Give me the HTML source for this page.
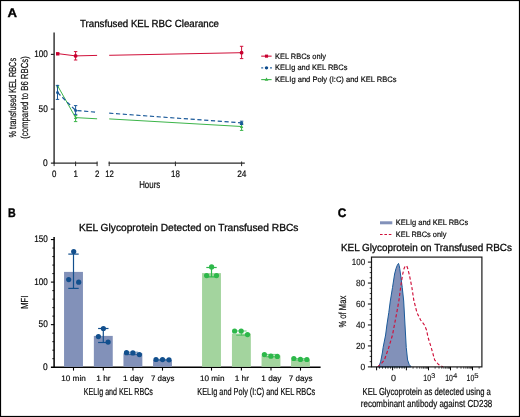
<!DOCTYPE html>
<html lang="en"><head><meta charset="utf-8"><title>KEL RBC Clearance</title>
<style>
html,body{margin:0;padding:0;background:#fff;}
body{width:520px;height:417px;overflow:hidden;}
svg{display:block;font-family:"Liberation Sans",sans-serif;text-rendering:geometricPrecision;}
</style></head><body>
<svg width="520" height="417" viewBox="0 0 520 417">
<rect x="0" y="0" width="520" height="417" fill="#fff"/>
<g id="panelA">
<text x="7.5" y="17" font-size="12.4" text-anchor="start" font-weight="bold" fill="#000" stroke="#000" stroke-width="0.35" textLength="9.5" lengthAdjust="spacingAndGlyphs">A</text>
<text x="80" y="27" font-size="10.3" text-anchor="start" font-weight="normal" fill="#0a0a0a" stroke="#0a0a0a" stroke-width="0.3" textLength="139" lengthAdjust="spacingAndGlyphs">Transfused KEL RBC Clearance</text>
<line x1="54.1" y1="32.5" x2="54.1" y2="163.79999999999998" stroke="#2a2a2a" stroke-width="1.4"/>
<line x1="50.9" y1="163.1" x2="97.4" y2="163.1" stroke="#2a2a2a" stroke-width="1.4"/>
<line x1="108.6" y1="163.1" x2="244.8" y2="163.1" stroke="#2a2a2a" stroke-width="1.4"/>
<line x1="50.9" y1="54.4" x2="54.1" y2="54.4" stroke="#2a2a2a" stroke-width="1.2"/>
<line x1="50.9" y1="109.1" x2="54.1" y2="109.1" stroke="#2a2a2a" stroke-width="1.2"/>
<line x1="54.1" y1="161.5" x2="54.1" y2="166.1" stroke="#2a2a2a" stroke-width="1.0"/>
<line x1="75.6" y1="161.5" x2="75.6" y2="166.1" stroke="#2a2a2a" stroke-width="1.0"/>
<line x1="97.1" y1="161.5" x2="97.1" y2="166.1" stroke="#2a2a2a" stroke-width="1.0"/>
<line x1="109.2" y1="161.5" x2="109.2" y2="166.1" stroke="#2a2a2a" stroke-width="1.0"/>
<line x1="175.4" y1="161.5" x2="175.4" y2="166.1" stroke="#2a2a2a" stroke-width="1.0"/>
<line x1="241.6" y1="161.5" x2="241.6" y2="166.1" stroke="#2a2a2a" stroke-width="1.0"/>
<text x="34.2" y="57.1" font-size="9.6" text-anchor="start" font-weight="normal" fill="#0a0a0a" stroke="#0a0a0a" stroke-width="0.2" textLength="13.6" lengthAdjust="spacingAndGlyphs">100</text>
<text x="38.6" y="111.8" font-size="9.6" text-anchor="start" font-weight="normal" fill="#0a0a0a" stroke="#0a0a0a" stroke-width="0.2" textLength="9.2" lengthAdjust="spacingAndGlyphs">50</text>
<text x="43.1" y="165.8" font-size="9.6" text-anchor="start" font-weight="normal" fill="#0a0a0a" stroke="#0a0a0a" stroke-width="0.2" textLength="4.7" lengthAdjust="spacingAndGlyphs">0</text>
<text x="51.9" y="176.8" font-size="9.4" text-anchor="start" font-weight="normal" fill="#0a0a0a" stroke="#0a0a0a" stroke-width="0.2" textLength="4.4" lengthAdjust="spacingAndGlyphs">0</text>
<text x="73.4" y="176.8" font-size="9.4" text-anchor="start" font-weight="normal" fill="#0a0a0a" stroke="#0a0a0a" stroke-width="0.2" textLength="4.4" lengthAdjust="spacingAndGlyphs">1</text>
<text x="94.9" y="176.8" font-size="9.4" text-anchor="start" font-weight="normal" fill="#0a0a0a" stroke="#0a0a0a" stroke-width="0.2" textLength="4.4" lengthAdjust="spacingAndGlyphs">2</text>
<text x="105.3" y="176.8" font-size="9.4" text-anchor="start" font-weight="normal" fill="#0a0a0a" stroke="#0a0a0a" stroke-width="0.2" textLength="8.6" lengthAdjust="spacingAndGlyphs">12</text>
<text x="171.1" y="176.8" font-size="9.4" text-anchor="start" font-weight="normal" fill="#0a0a0a" stroke="#0a0a0a" stroke-width="0.2" textLength="8.8" lengthAdjust="spacingAndGlyphs">18</text>
<text x="237.2" y="176.8" font-size="9.4" text-anchor="start" font-weight="normal" fill="#0a0a0a" stroke="#0a0a0a" stroke-width="0.2" textLength="9.2" lengthAdjust="spacingAndGlyphs">24</text>
<text x="139.2" y="188.2" font-size="10.2" text-anchor="start" font-weight="normal" fill="#0a0a0a" stroke="#0a0a0a" stroke-width="0.2" textLength="21" lengthAdjust="spacingAndGlyphs">Hours</text>
<text transform="translate(16.1,137.45) rotate(-90)" x="0" y="0" font-size="10.2" fill="#0a0a0a" stroke="#0a0a0a" stroke-width="0.2" textLength="79.5" lengthAdjust="spacingAndGlyphs">% transfused KEL RBCs</text>
<text transform="translate(27.9,138.75) rotate(-90)" x="0" y="0" font-size="10.2" fill="#0a0a0a" stroke="#0a0a0a" stroke-width="0.2" textLength="82.5" lengthAdjust="spacingAndGlyphs">(compared to B6 RBCs)</text>
<polyline points="57.5,85.6 75.6,117.6 97.1,118.8" fill="none" stroke="#3cb54a" stroke-width="1.0"/>
<polyline points="109.2,118.9 241.6,126.5" fill="none" stroke="#3cb54a" stroke-width="1.0"/>
<line x1="75.6" y1="115.6" x2="75.6" y2="121.6" stroke="#3cb54a" stroke-width="1.0"/>
<line x1="73.89999999999999" y1="115.6" x2="77.3" y2="115.6" stroke="#3cb54a" stroke-width="1.0"/>
<line x1="73.89999999999999" y1="121.6" x2="77.3" y2="121.6" stroke="#3cb54a" stroke-width="1.0"/>
<line x1="241.6" y1="123.2" x2="241.6" y2="130.4" stroke="#3cb54a" stroke-width="1.0"/>
<line x1="239.9" y1="123.2" x2="243.29999999999998" y2="123.2" stroke="#3cb54a" stroke-width="1.0"/>
<line x1="239.9" y1="130.4" x2="243.29999999999998" y2="130.4" stroke="#3cb54a" stroke-width="1.0"/>
<path d="M75.6,115.9 l1.7,3 h-3.4z M241.6,124.9 l1.7,3 h-3.4z M57.5,84.6 l1.5,2.6 h-3z" fill="#3cb54a"/>
<polyline points="57.5,92.5 75.6,110.4 97.1,112.3" fill="none" stroke="#1b5a9a" stroke-width="1.2" stroke-dasharray="4.2,2.6"/>
<polyline points="109.2,113.2 241.6,122.9" fill="none" stroke="#1b5a9a" stroke-width="1.2" stroke-dasharray="4.2,2.6"/>
<line x1="57.5" y1="85.4" x2="57.5" y2="99.4" stroke="#1b5a9a" stroke-width="1.0"/>
<line x1="55.8" y1="85.4" x2="59.2" y2="85.4" stroke="#1b5a9a" stroke-width="1.0"/>
<line x1="55.8" y1="99.4" x2="59.2" y2="99.4" stroke="#1b5a9a" stroke-width="1.0"/>
<line x1="75.6" y1="105.6" x2="75.6" y2="114.4" stroke="#1b5a9a" stroke-width="1.0"/>
<line x1="73.89999999999999" y1="105.6" x2="77.3" y2="105.6" stroke="#1b5a9a" stroke-width="1.0"/>
<line x1="73.89999999999999" y1="114.4" x2="77.3" y2="114.4" stroke="#1b5a9a" stroke-width="1.0"/>
<line x1="241.6" y1="121.2" x2="241.6" y2="124.5" stroke="#1b5a9a" stroke-width="1.0"/>
<line x1="239.9" y1="121.2" x2="243.29999999999998" y2="121.2" stroke="#1b5a9a" stroke-width="1.0"/>
<line x1="239.9" y1="124.5" x2="243.29999999999998" y2="124.5" stroke="#1b5a9a" stroke-width="1.0"/>
<circle cx="57.5" cy="92.5" r="1.5" fill="#1b5a9a"/>
<circle cx="75.6" cy="110.4" r="1.5" fill="#1b5a9a"/>
<circle cx="241.6" cy="122.9" r="1.5" fill="#1b5a9a"/>
<polyline points="57.5,53.6 75.6,55.9 97.1,55.4" fill="none" stroke="#d0103a" stroke-width="1.0"/>
<polyline points="109.2,55.3 241.6,52.7" fill="none" stroke="#d0103a" stroke-width="1.0"/>
<line x1="75.6" y1="51.6" x2="75.6" y2="60" stroke="#d0103a" stroke-width="1.0"/>
<line x1="73.89999999999999" y1="51.6" x2="77.3" y2="51.6" stroke="#d0103a" stroke-width="1.0"/>
<line x1="73.89999999999999" y1="60" x2="77.3" y2="60" stroke="#d0103a" stroke-width="1.0"/>
<line x1="241.6" y1="46.3" x2="241.6" y2="58.6" stroke="#d0103a" stroke-width="1.0"/>
<line x1="239.9" y1="46.3" x2="243.29999999999998" y2="46.3" stroke="#d0103a" stroke-width="1.0"/>
<line x1="239.9" y1="58.6" x2="243.29999999999998" y2="58.6" stroke="#d0103a" stroke-width="1.0"/>
<rect x="56" y="52.1" width="3.4" height="3.4" fill="#c8002f"/>
<circle cx="75.6" cy="55.9" r="1.9" fill="#c8002f"/>
<circle cx="241.6" cy="52.7" r="1.9" fill="#c8002f"/>
<line x1="261.2" y1="56.15" x2="271.6" y2="56.15" stroke="#d0103a" stroke-width="1.1"/>
<rect x="264.95" y="54.6" width="3.1" height="3.1" fill="#c8002f"/>
<line x1="261.2" y1="67.85" x2="272" y2="67.85" stroke="#1b5a9a" stroke-width="1.1" stroke-dasharray="2,2.4" stroke-opacity="0.9"/>
<circle cx="266.5" cy="67.85" r="1.7" fill="#0d4a8c"/>
<line x1="261.2" y1="79.6" x2="271.6" y2="79.6" stroke="#3cb54a" stroke-width="1.1"/>
<path d="M266.5,77.6 l1.9,3.2 h-3.8z" fill="#3cb54a"/>
<text x="275" y="58.7" font-size="7.9" text-anchor="start" font-weight="normal" fill="#0a0a0a" stroke="#0a0a0a" stroke-width="0.18" textLength="51" lengthAdjust="spacingAndGlyphs">KEL RBCs only</text>
<text x="275" y="70.4" font-size="7.9" text-anchor="start" font-weight="normal" fill="#0a0a0a" stroke="#0a0a0a" stroke-width="0.18" textLength="72.4" lengthAdjust="spacingAndGlyphs">KELIg and KEL RBCs</text>
<text x="275" y="82.1" font-size="7.9" text-anchor="start" font-weight="normal" fill="#0a0a0a" stroke="#0a0a0a" stroke-width="0.18" textLength="121.5" lengthAdjust="spacingAndGlyphs">KELIg and Poly (I:C) and KEL RBCs</text>
</g>
<g id="panelB">
<text x="7.9" y="216.6" font-size="12.4" text-anchor="start" font-weight="bold" fill="#000" stroke="#000" stroke-width="0.35" textLength="7.7" lengthAdjust="spacingAndGlyphs">B</text>
<text x="78.9" y="230.8" font-size="10.3" text-anchor="start" font-weight="normal" fill="#0a0a0a" stroke="#0a0a0a" stroke-width="0.3" textLength="219.5" lengthAdjust="spacingAndGlyphs">KEL Glycoprotein Detected on Transfused RBCs</text>
<line x1="54.1" y1="236.9" x2="54.1" y2="367.9" stroke="#000" stroke-width="1.5"/>
<line x1="50.9" y1="367.2" x2="320.6" y2="367.2" stroke="#000" stroke-width="1.5"/>
<line x1="52.300000000000004" y1="358.69" x2="54.1" y2="358.69" stroke="#000" stroke-width="0.9"/>
<line x1="52.300000000000004" y1="350.18" x2="54.1" y2="350.18" stroke="#000" stroke-width="0.9"/>
<line x1="52.300000000000004" y1="341.66999999999996" x2="54.1" y2="341.66999999999996" stroke="#000" stroke-width="0.9"/>
<line x1="52.300000000000004" y1="333.15999999999997" x2="54.1" y2="333.15999999999997" stroke="#000" stroke-width="0.9"/>
<line x1="50.9" y1="324.65" x2="54.1" y2="324.65" stroke="#000" stroke-width="1.1"/>
<line x1="52.300000000000004" y1="316.14" x2="54.1" y2="316.14" stroke="#000" stroke-width="0.9"/>
<line x1="52.300000000000004" y1="307.63" x2="54.1" y2="307.63" stroke="#000" stroke-width="0.9"/>
<line x1="52.300000000000004" y1="299.12" x2="54.1" y2="299.12" stroke="#000" stroke-width="0.9"/>
<line x1="52.300000000000004" y1="290.61" x2="54.1" y2="290.61" stroke="#000" stroke-width="0.9"/>
<line x1="50.9" y1="282.1" x2="54.1" y2="282.1" stroke="#000" stroke-width="1.1"/>
<line x1="52.300000000000004" y1="273.59" x2="54.1" y2="273.59" stroke="#000" stroke-width="0.9"/>
<line x1="52.300000000000004" y1="265.08" x2="54.1" y2="265.08" stroke="#000" stroke-width="0.9"/>
<line x1="52.300000000000004" y1="256.57" x2="54.1" y2="256.57" stroke="#000" stroke-width="0.9"/>
<line x1="52.300000000000004" y1="248.06" x2="54.1" y2="248.06" stroke="#000" stroke-width="0.9"/>
<line x1="50.9" y1="239.55" x2="54.1" y2="239.55" stroke="#000" stroke-width="1.1"/>
<text x="34.2" y="242.25" font-size="9.6" text-anchor="start" font-weight="normal" fill="#0a0a0a" stroke="#0a0a0a" stroke-width="0.2" textLength="13.6" lengthAdjust="spacingAndGlyphs">150</text>
<text x="34.2" y="284.8" font-size="9.6" text-anchor="start" font-weight="normal" fill="#0a0a0a" stroke="#0a0a0a" stroke-width="0.2" textLength="13.6" lengthAdjust="spacingAndGlyphs">100</text>
<text x="38.6" y="327.35" font-size="9.6" text-anchor="start" font-weight="normal" fill="#0a0a0a" stroke="#0a0a0a" stroke-width="0.2" textLength="9.2" lengthAdjust="spacingAndGlyphs">50</text>
<text x="43.1" y="369.9" font-size="9.6" text-anchor="start" font-weight="normal" fill="#0a0a0a" stroke="#0a0a0a" stroke-width="0.2" textLength="4.7" lengthAdjust="spacingAndGlyphs">0</text>
<text transform="translate(28.1,308.8) rotate(-90)" x="0" y="0" font-size="10.2" fill="#0a0a0a" stroke="#0a0a0a" stroke-width="0.2" textLength="13.2" lengthAdjust="spacingAndGlyphs">MFI</text>
<rect x="64.05" y="271.9" width="18.9" height="94.90" fill="#8291b9"/>
<line x1="73.5" y1="367.2" x2="73.5" y2="370.59999999999997" stroke="#000" stroke-width="1.1"/>
<rect x="93.85" y="335.9" width="18.9" height="30.90" fill="#8291b9"/>
<line x1="103.3" y1="367.2" x2="103.3" y2="370.59999999999997" stroke="#000" stroke-width="1.1"/>
<rect x="123.45" y="353.3" width="18.9" height="13.50" fill="#8291b9"/>
<line x1="132.9" y1="367.2" x2="132.9" y2="370.59999999999997" stroke="#000" stroke-width="1.1"/>
<rect x="153.05" y="360.0" width="18.9" height="6.80" fill="#8291b9"/>
<line x1="162.5" y1="367.2" x2="162.5" y2="370.59999999999997" stroke="#000" stroke-width="1.1"/>
<rect x="202.05" y="273.1" width="18.9" height="93.70" fill="#a3d49e"/>
<line x1="211.5" y1="367.2" x2="211.5" y2="370.59999999999997" stroke="#000" stroke-width="1.1"/>
<rect x="231.95000000000002" y="333.6" width="18.9" height="33.20" fill="#a3d49e"/>
<line x1="241.4" y1="367.2" x2="241.4" y2="370.59999999999997" stroke="#000" stroke-width="1.1"/>
<rect x="261.55" y="355.5" width="18.9" height="11.30" fill="#a3d49e"/>
<line x1="271.0" y1="367.2" x2="271.0" y2="370.59999999999997" stroke="#000" stroke-width="1.1"/>
<rect x="291.05" y="359.6" width="18.9" height="7.20" fill="#a3d49e"/>
<line x1="300.5" y1="367.2" x2="300.5" y2="370.59999999999997" stroke="#000" stroke-width="1.1"/>
<line x1="73.5" y1="254.1" x2="73.5" y2="288.4" stroke="#124f8d" stroke-width="1.2"/>
<line x1="68.3" y1="254.1" x2="78.7" y2="254.1" stroke="#124f8d" stroke-width="1.2"/>
<line x1="68.3" y1="288.4" x2="78.7" y2="288.4" stroke="#124f8d" stroke-width="1.2"/>
<line x1="103.3" y1="328.5" x2="103.3" y2="342.5" stroke="#124f8d" stroke-width="1.2"/>
<line x1="98.1" y1="328.5" x2="108.5" y2="328.5" stroke="#124f8d" stroke-width="1.2"/>
<line x1="98.1" y1="342.5" x2="108.5" y2="342.5" stroke="#124f8d" stroke-width="1.2"/>
<line x1="132.9" y1="352.2" x2="132.9" y2="354.6" stroke="#124f8d" stroke-width="0.7"/>
<line x1="127.7" y1="352.2" x2="138.1" y2="352.2" stroke="#124f8d" stroke-width="0.7"/>
<line x1="127.7" y1="354.6" x2="138.1" y2="354.6" stroke="#124f8d" stroke-width="0.7"/>
<line x1="162.5" y1="359.4" x2="162.5" y2="360.2" stroke="#124f8d" stroke-width="0.7"/>
<line x1="157.3" y1="359.4" x2="167.7" y2="359.4" stroke="#124f8d" stroke-width="0.7"/>
<line x1="157.3" y1="360.2" x2="167.7" y2="360.2" stroke="#124f8d" stroke-width="0.7"/>
<line x1="211.5" y1="267.5" x2="211.5" y2="276.9" stroke="#2db84a" stroke-width="1.2"/>
<line x1="206.3" y1="267.5" x2="216.7" y2="267.5" stroke="#2db84a" stroke-width="1.2"/>
<line x1="206.3" y1="276.9" x2="216.7" y2="276.9" stroke="#2db84a" stroke-width="1.2"/>
<line x1="241.4" y1="331.0" x2="241.4" y2="335.2" stroke="#2db84a" stroke-width="0.7"/>
<line x1="236.20000000000002" y1="331.0" x2="246.6" y2="331.0" stroke="#2db84a" stroke-width="0.7"/>
<line x1="236.20000000000002" y1="335.2" x2="246.6" y2="335.2" stroke="#2db84a" stroke-width="0.7"/>
<line x1="271.0" y1="354.4" x2="271.0" y2="356.8" stroke="#2db84a" stroke-width="0.7"/>
<line x1="265.8" y1="354.4" x2="276.2" y2="354.4" stroke="#2db84a" stroke-width="0.7"/>
<line x1="265.8" y1="356.8" x2="276.2" y2="356.8" stroke="#2db84a" stroke-width="0.7"/>
<line x1="300.5" y1="358.6" x2="300.5" y2="360.0" stroke="#2db84a" stroke-width="0.7"/>
<line x1="295.3" y1="358.6" x2="305.7" y2="358.6" stroke="#2db84a" stroke-width="0.7"/>
<line x1="295.3" y1="360.0" x2="305.7" y2="360.0" stroke="#2db84a" stroke-width="0.7"/>
<circle cx="73.7" cy="251.5" r="2.6" fill="#124f8d"/>
<circle cx="68.7" cy="279.6" r="2.6" fill="#124f8d"/>
<circle cx="78.7" cy="282.2" r="2.6" fill="#124f8d"/>
<circle cx="103.4" cy="328.5" r="2.6" fill="#124f8d"/>
<circle cx="98.4" cy="336.6" r="2.6" fill="#124f8d"/>
<circle cx="108.1" cy="342.1" r="2.6" fill="#124f8d"/>
<circle cx="126.5" cy="352.7" r="2.6" fill="#124f8d"/>
<circle cx="132.9" cy="352.9" r="2.6" fill="#124f8d"/>
<circle cx="139.4" cy="354.6" r="2.6" fill="#124f8d"/>
<circle cx="156.0" cy="359.5" r="2.6" fill="#124f8d"/>
<circle cx="162.5" cy="359.6" r="2.6" fill="#124f8d"/>
<circle cx="169.0" cy="359.8" r="2.6" fill="#124f8d"/>
<circle cx="211.6" cy="266.9" r="2.6" fill="#2db84a"/>
<circle cx="206.6" cy="275.6" r="2.6" fill="#2db84a"/>
<circle cx="216.5" cy="275.6" r="2.6" fill="#2db84a"/>
<circle cx="234.6" cy="331.0" r="2.6" fill="#2db84a"/>
<circle cx="241.2" cy="331.0" r="2.6" fill="#2db84a"/>
<circle cx="247.5" cy="334.6" r="2.6" fill="#2db84a"/>
<circle cx="264.4" cy="354.6" r="2.6" fill="#2db84a"/>
<circle cx="270.9" cy="356.2" r="2.6" fill="#2db84a"/>
<circle cx="277.3" cy="356.4" r="2.6" fill="#2db84a"/>
<circle cx="293.8" cy="358.5" r="2.6" fill="#2db84a"/>
<circle cx="300.4" cy="359.4" r="2.6" fill="#2db84a"/>
<circle cx="306.9" cy="359.5" r="2.6" fill="#2db84a"/>
<text x="61.25" y="381.0" font-size="8.0" text-anchor="start" font-weight="normal" fill="#0a0a0a" stroke="#0a0a0a" stroke-width="0.18" textLength="24.5" lengthAdjust="spacingAndGlyphs">10 min</text>
<text x="96.25" y="381.0" font-size="8.0" text-anchor="start" font-weight="normal" fill="#0a0a0a" stroke="#0a0a0a" stroke-width="0.18" textLength="14.3" lengthAdjust="spacingAndGlyphs">1 hr</text>
<text x="123.1" y="381.0" font-size="8.0" text-anchor="start" font-weight="normal" fill="#0a0a0a" stroke="#0a0a0a" stroke-width="0.18" textLength="20.2" lengthAdjust="spacingAndGlyphs">1 day</text>
<text x="151.0" y="381.0" font-size="8.0" text-anchor="start" font-weight="normal" fill="#0a0a0a" stroke="#0a0a0a" stroke-width="0.18" textLength="23.4" lengthAdjust="spacingAndGlyphs">7 days</text>
<text x="199.95" y="381.0" font-size="8.0" text-anchor="start" font-weight="normal" fill="#0a0a0a" stroke="#0a0a0a" stroke-width="0.18" textLength="24.5" lengthAdjust="spacingAndGlyphs">10 min</text>
<text x="234.65" y="381.0" font-size="8.0" text-anchor="start" font-weight="normal" fill="#0a0a0a" stroke="#0a0a0a" stroke-width="0.18" textLength="14.3" lengthAdjust="spacingAndGlyphs">1 hr</text>
<text x="261.3" y="381.0" font-size="8.0" text-anchor="start" font-weight="normal" fill="#0a0a0a" stroke="#0a0a0a" stroke-width="0.18" textLength="20.2" lengthAdjust="spacingAndGlyphs">1 day</text>
<text x="288.75" y="381.0" font-size="8.0" text-anchor="start" font-weight="normal" fill="#0a0a0a" stroke="#0a0a0a" stroke-width="0.18" textLength="23.7" lengthAdjust="spacingAndGlyphs">7 days</text>
<text x="83.7" y="394.8" font-size="10.2" text-anchor="start" font-weight="normal" fill="#0a0a0a" stroke="#0a0a0a" stroke-width="0.2" textLength="69.2" lengthAdjust="spacingAndGlyphs">KELIg and KEL RBCs</text>
<text x="197.3" y="394.8" font-size="10.2" text-anchor="start" font-weight="normal" fill="#0a0a0a" stroke="#0a0a0a" stroke-width="0.2" textLength="117.9" lengthAdjust="spacingAndGlyphs">KELIg and Poly (I:C) and KEL RBCs</text>
</g>
<g id="panelC">
<text x="337.8" y="216.9" font-size="12.4" text-anchor="start" font-weight="bold" fill="#000" stroke="#000" stroke-width="0.35" textLength="8.6" lengthAdjust="spacingAndGlyphs">C</text>
<rect x="380" y="221.3" width="12.3" height="3" fill="#8291b9"/>
<line x1="380" y1="234.5" x2="392.3" y2="234.5" stroke="#d0103a" stroke-width="1.0" stroke-dasharray="2.6,1.8"/>
<text x="395.8" y="225.2" font-size="7.9" text-anchor="start" font-weight="normal" fill="#0a0a0a" stroke="#0a0a0a" stroke-width="0.18" textLength="72.4" lengthAdjust="spacingAndGlyphs">KELIg and KEL RBCs</text>
<text x="395.8" y="237.1" font-size="7.9" text-anchor="start" font-weight="normal" fill="#0a0a0a" stroke="#0a0a0a" stroke-width="0.18" textLength="50.6" lengthAdjust="spacingAndGlyphs">KEL RBCs only</text>
<text x="341" y="250.8" font-size="10.3" text-anchor="start" font-weight="normal" fill="#0a0a0a" stroke="#0a0a0a" stroke-width="0.3" textLength="171" lengthAdjust="spacingAndGlyphs">KEL Glycoprotein on Transfused RBCs</text>
<polygon points="378.1,366.9 379.4,365 380.6,361.9 382.5,352 383.1,347.5 385.6,335 386.9,325 388.8,312.5 390.3,301 392.5,287.5 394.6,274 396.0,268.5 397.3,265.2 398.5,263.4 399.2,265.5 399.75,268.75 400.6,275 402.25,287.5 403.7,301 405,325 406.25,347.5 407.6,360 409.2,364.5 411.2,366.9" fill="#8291b9" stroke="#1b5a9a" stroke-width="1" stroke-linejoin="round"/>
<polyline points="377.5,366.9 380.5,364.5 384.4,360 388.75,347.5 392.5,335 394.4,325 396.8,312.5 399,300 400.6,287.5 402.5,275 404,268.75 405,266.5 406,265.6 407,266.5 407.75,268.75 409.4,275 411.9,287.5 413.75,300 416.9,312.5 420.6,320 424.4,325 426.5,330 428.1,337.5 431.2,347.5 434.7,360 438.5,364.5 443,366.9" fill="none" stroke="#d0103a" stroke-width="1.15" stroke-dasharray="3.2,2.2" stroke-linejoin="round"/>
<rect x="371.5" y="257.1" width="110.4" height="109.8" fill="none" stroke="#1a1a1a" stroke-width="1.2"/>
<line x1="367.9" y1="366.9" x2="371.5" y2="366.9" stroke="#000" stroke-width="1.0"/>
<line x1="369.7" y1="361.65999999999997" x2="371.5" y2="361.65999999999997" stroke="#000" stroke-width="0.8"/>
<line x1="369.7" y1="356.41999999999996" x2="371.5" y2="356.41999999999996" stroke="#000" stroke-width="0.8"/>
<line x1="369.7" y1="351.18" x2="371.5" y2="351.18" stroke="#000" stroke-width="0.8"/>
<line x1="367.9" y1="345.94" x2="371.5" y2="345.94" stroke="#000" stroke-width="1.0"/>
<line x1="369.7" y1="340.7" x2="371.5" y2="340.7" stroke="#000" stroke-width="0.8"/>
<line x1="369.7" y1="335.46" x2="371.5" y2="335.46" stroke="#000" stroke-width="0.8"/>
<line x1="369.7" y1="330.21999999999997" x2="371.5" y2="330.21999999999997" stroke="#000" stroke-width="0.8"/>
<line x1="367.9" y1="324.98" x2="371.5" y2="324.98" stroke="#000" stroke-width="1.0"/>
<line x1="369.7" y1="319.74" x2="371.5" y2="319.74" stroke="#000" stroke-width="0.8"/>
<line x1="369.7" y1="314.5" x2="371.5" y2="314.5" stroke="#000" stroke-width="0.8"/>
<line x1="369.7" y1="309.26" x2="371.5" y2="309.26" stroke="#000" stroke-width="0.8"/>
<line x1="367.9" y1="304.02" x2="371.5" y2="304.02" stroke="#000" stroke-width="1.0"/>
<line x1="369.7" y1="298.78" x2="371.5" y2="298.78" stroke="#000" stroke-width="0.8"/>
<line x1="369.7" y1="293.54" x2="371.5" y2="293.54" stroke="#000" stroke-width="0.8"/>
<line x1="369.7" y1="288.3" x2="371.5" y2="288.3" stroke="#000" stroke-width="0.8"/>
<line x1="367.9" y1="283.06" x2="371.5" y2="283.06" stroke="#000" stroke-width="1.0"/>
<line x1="369.7" y1="277.82" x2="371.5" y2="277.82" stroke="#000" stroke-width="0.8"/>
<line x1="369.7" y1="272.58000000000004" x2="371.5" y2="272.58000000000004" stroke="#000" stroke-width="0.8"/>
<line x1="369.7" y1="267.34000000000003" x2="371.5" y2="267.34000000000003" stroke="#000" stroke-width="0.8"/>
<line x1="367.9" y1="262.1" x2="371.5" y2="262.1" stroke="#000" stroke-width="1.0"/>
<text x="351.8" y="265.4" font-size="9.0" text-anchor="start" font-weight="normal" fill="#111" stroke="#111" stroke-width="0.15" textLength="13.3" lengthAdjust="spacingAndGlyphs">100</text>
<text x="355.9" y="286.36" font-size="9.0" text-anchor="start" font-weight="normal" fill="#111" stroke="#111" stroke-width="0.15" textLength="9.2" lengthAdjust="spacingAndGlyphs">80</text>
<text x="355.9" y="307.32" font-size="9.0" text-anchor="start" font-weight="normal" fill="#111" stroke="#111" stroke-width="0.15" textLength="9.2" lengthAdjust="spacingAndGlyphs">60</text>
<text x="355.9" y="328.28" font-size="9.0" text-anchor="start" font-weight="normal" fill="#111" stroke="#111" stroke-width="0.15" textLength="9.2" lengthAdjust="spacingAndGlyphs">40</text>
<text x="355.9" y="349.24" font-size="9.0" text-anchor="start" font-weight="normal" fill="#111" stroke="#111" stroke-width="0.15" textLength="9.2" lengthAdjust="spacingAndGlyphs">20</text>
<text x="360.4" y="370.2" font-size="9.0" text-anchor="start" font-weight="normal" fill="#111" stroke="#111" stroke-width="0.15" textLength="4.7" lengthAdjust="spacingAndGlyphs">0</text>
<text transform="translate(345.5,327.59999999999997) rotate(-90)" x="0" y="0" font-size="10.2" fill="#111" stroke="#111" stroke-width="0.2" textLength="31.8" lengthAdjust="spacingAndGlyphs">% of Max</text>
<line x1="376.6" y1="366.9" x2="376.6" y2="370.29999999999995" stroke="#000" stroke-width="1.0"/>
<line x1="392.6" y1="366.9" x2="392.6" y2="370.29999999999995" stroke="#000" stroke-width="1.0"/>
<line x1="406.4" y1="366.9" x2="406.4" y2="370.29999999999995" stroke="#000" stroke-width="1.0"/>
<line x1="428.5" y1="366.9" x2="428.5" y2="370.29999999999995" stroke="#000" stroke-width="1.0"/>
<line x1="450.5" y1="366.9" x2="450.5" y2="370.29999999999995" stroke="#000" stroke-width="1.0"/>
<line x1="472.5" y1="366.9" x2="472.5" y2="370.29999999999995" stroke="#000" stroke-width="1.0"/>
<line x1="413.05" y1="366.9" x2="413.05" y2="368.7" stroke="#000" stroke-width="0.7"/>
<line x1="416.94" y1="366.9" x2="416.94" y2="368.7" stroke="#000" stroke-width="0.7"/>
<line x1="419.71" y1="366.9" x2="419.71" y2="368.7" stroke="#000" stroke-width="0.7"/>
<line x1="421.85" y1="366.9" x2="421.85" y2="368.7" stroke="#000" stroke-width="0.7"/>
<line x1="423.6" y1="366.9" x2="423.6" y2="368.7" stroke="#000" stroke-width="0.7"/>
<line x1="425.08" y1="366.9" x2="425.08" y2="368.7" stroke="#000" stroke-width="0.7"/>
<line x1="426.36" y1="366.9" x2="426.36" y2="368.7" stroke="#000" stroke-width="0.7"/>
<line x1="427.49" y1="366.9" x2="427.49" y2="368.7" stroke="#000" stroke-width="0.7"/>
<line x1="435.12" y1="366.9" x2="435.12" y2="368.7" stroke="#000" stroke-width="0.7"/>
<line x1="439.0" y1="366.9" x2="439.0" y2="368.7" stroke="#000" stroke-width="0.7"/>
<line x1="441.75" y1="366.9" x2="441.75" y2="368.7" stroke="#000" stroke-width="0.7"/>
<line x1="443.88" y1="366.9" x2="443.88" y2="368.7" stroke="#000" stroke-width="0.7"/>
<line x1="445.62" y1="366.9" x2="445.62" y2="368.7" stroke="#000" stroke-width="0.7"/>
<line x1="447.09" y1="366.9" x2="447.09" y2="368.7" stroke="#000" stroke-width="0.7"/>
<line x1="448.37" y1="366.9" x2="448.37" y2="368.7" stroke="#000" stroke-width="0.7"/>
<line x1="449.49" y1="366.9" x2="449.49" y2="368.7" stroke="#000" stroke-width="0.7"/>
<line x1="457.12" y1="366.9" x2="457.12" y2="368.7" stroke="#000" stroke-width="0.7"/>
<line x1="461.0" y1="366.9" x2="461.0" y2="368.7" stroke="#000" stroke-width="0.7"/>
<line x1="463.75" y1="366.9" x2="463.75" y2="368.7" stroke="#000" stroke-width="0.7"/>
<line x1="465.88" y1="366.9" x2="465.88" y2="368.7" stroke="#000" stroke-width="0.7"/>
<line x1="467.62" y1="366.9" x2="467.62" y2="368.7" stroke="#000" stroke-width="0.7"/>
<line x1="469.09" y1="366.9" x2="469.09" y2="368.7" stroke="#000" stroke-width="0.7"/>
<line x1="470.37" y1="366.9" x2="470.37" y2="368.7" stroke="#000" stroke-width="0.7"/>
<line x1="471.49" y1="366.9" x2="471.49" y2="368.7" stroke="#000" stroke-width="0.7"/>
<line x1="479.12" y1="366.9" x2="479.12" y2="368.7" stroke="#000" stroke-width="0.7"/>
<line x1="379.5" y1="366.9" x2="379.5" y2="368.7" stroke="#000" stroke-width="0.7"/>
<line x1="382.5" y1="366.9" x2="382.5" y2="368.7" stroke="#000" stroke-width="0.7"/>
<line x1="385.5" y1="366.9" x2="385.5" y2="368.7" stroke="#000" stroke-width="0.7"/>
<line x1="388" y1="366.9" x2="388" y2="368.7" stroke="#000" stroke-width="0.7"/>
<line x1="390.5" y1="366.9" x2="390.5" y2="368.7" stroke="#000" stroke-width="0.7"/>
<line x1="394.8" y1="366.9" x2="394.8" y2="368.7" stroke="#000" stroke-width="0.7"/>
<line x1="397" y1="366.9" x2="397" y2="368.7" stroke="#000" stroke-width="0.7"/>
<line x1="399.5" y1="366.9" x2="399.5" y2="368.7" stroke="#000" stroke-width="0.7"/>
<line x1="402" y1="366.9" x2="402" y2="368.7" stroke="#000" stroke-width="0.7"/>
<line x1="404.3" y1="366.9" x2="404.3" y2="368.7" stroke="#000" stroke-width="0.7"/>
<text x="390.9" y="381.2" font-size="9.0" text-anchor="start" font-weight="normal" fill="#111" stroke="#111" stroke-width="0.15" textLength="5.0" lengthAdjust="spacingAndGlyphs">0</text>
<text x="423.3" y="381.2" font-size="9.0" text-anchor="start" font-weight="normal" fill="#111" stroke="#111" stroke-width="0.15" textLength="7.7" lengthAdjust="spacingAndGlyphs">10</text>
<text x="431.0" y="377.9" font-size="7.0" text-anchor="start" font-weight="normal" fill="#111" stroke="#111" stroke-width="0.1" textLength="4.3" lengthAdjust="spacingAndGlyphs">3</text>
<text x="445.2" y="381.2" font-size="9.0" text-anchor="start" font-weight="normal" fill="#111" stroke="#111" stroke-width="0.15" textLength="7.7" lengthAdjust="spacingAndGlyphs">10</text>
<text x="452.9" y="377.9" font-size="7.0" text-anchor="start" font-weight="normal" fill="#111" stroke="#111" stroke-width="0.1" textLength="4.3" lengthAdjust="spacingAndGlyphs">4</text>
<text x="466.6" y="381.2" font-size="9.0" text-anchor="start" font-weight="normal" fill="#111" stroke="#111" stroke-width="0.15" textLength="7.7" lengthAdjust="spacingAndGlyphs">10</text>
<text x="474.3" y="377.9" font-size="7.0" text-anchor="start" font-weight="normal" fill="#111" stroke="#111" stroke-width="0.1" textLength="4.3" lengthAdjust="spacingAndGlyphs">5</text>
<text x="362.5" y="394.9" font-size="10.2" text-anchor="start" font-weight="normal" fill="#0a0a0a" stroke="#0a0a0a" stroke-width="0.2" textLength="128.4" lengthAdjust="spacingAndGlyphs">KEL Glycoprotein as detected using a</text>
<text x="360.8" y="407.2" font-size="10.2" text-anchor="start" font-weight="normal" fill="#0a0a0a" stroke="#0a0a0a" stroke-width="0.2" textLength="131.5" lengthAdjust="spacingAndGlyphs">recombinant antibody against CD238</text>
</g>
<rect x="0.5" y="0.5" width="519" height="416" fill="none" stroke="#000" stroke-width="1.2"/>
</svg></body></html>
